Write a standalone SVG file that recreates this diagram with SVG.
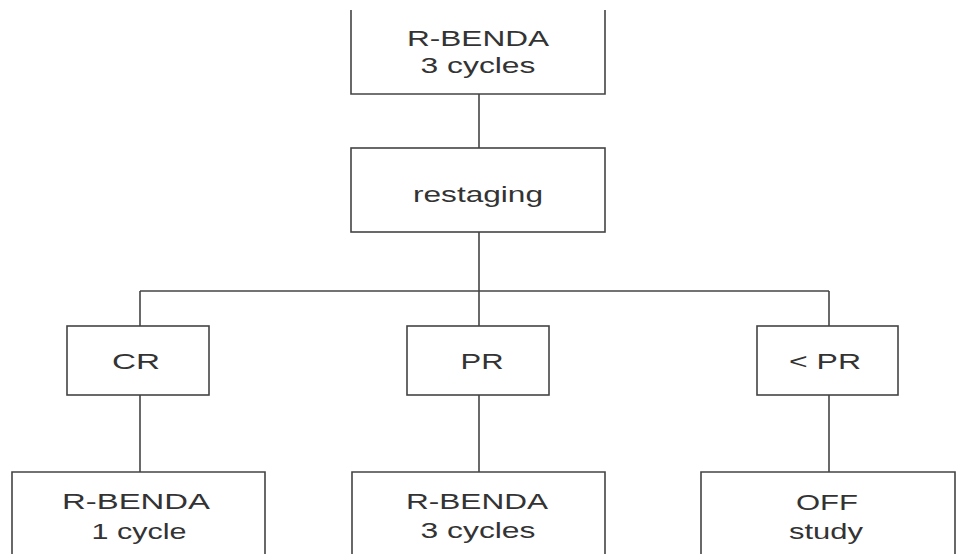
<svg xmlns="http://www.w3.org/2000/svg" width="957" height="554" viewBox="0 0 957 554">
<style>
.box{fill:#fff;stroke:#444;stroke-width:1.6}
.ln{fill:none;stroke:#444;stroke-width:1.6}
.t{font-family:"Liberation Sans",Arial,sans-serif;font-size:22px;fill:#333;text-anchor:middle}
</style>
<rect width="957" height="554" fill="#fff"/>
<g id="connectors">
<line class="ln" x1="479" y1="94" x2="479" y2="148"/>
<line class="ln" x1="479" y1="232" x2="479" y2="291"/>
<line class="ln" x1="140" y1="291" x2="829" y2="291"/>
<line class="ln" x1="140" y1="291" x2="140" y2="326"/>
<line class="ln" x1="479" y1="291" x2="479" y2="326"/>
<line class="ln" x1="829" y1="291" x2="829" y2="326"/>
<line class="ln" x1="140" y1="395" x2="140" y2="472"/>
<line class="ln" x1="479" y1="395" x2="479" y2="472"/>
<line class="ln" x1="829" y1="395" x2="829" y2="472"/>
</g>
<g id="start">
<path class="box" d="M351,10 V94 H605 V10"/>
<text class="t" x="478" y="46" textLength="142" lengthAdjust="spacingAndGlyphs">R-BENDA</text>
<text class="t" x="478" y="73" textLength="115" lengthAdjust="spacingAndGlyphs">3 cycles</text>
</g>
<g id="restaging">
<rect class="box" x="351" y="148" width="254" height="84"/>
<text class="t" x="478" y="202" textLength="130" lengthAdjust="spacingAndGlyphs">restaging</text>
</g>
<g id="cr">
<rect class="box" x="67" y="326" width="142" height="69"/>
<text class="t" x="136" y="369" textLength="48" lengthAdjust="spacingAndGlyphs">CR</text>
</g>
<g id="pr">
<rect class="box" x="407" y="326" width="142" height="69"/>
<text class="t" x="482" y="369" textLength="43" lengthAdjust="spacingAndGlyphs">PR</text>
</g>
<g id="lesspr">
<rect class="box" x="757" y="326" width="141" height="69"/>
<text class="t" x="825" y="369" textLength="72" lengthAdjust="spacingAndGlyphs">&lt; PR</text>
</g>
<g id="cr-tx">
<path class="box" d="M12,554 V472 H265 V554"/>
<text class="t" x="136" y="509" textLength="148" lengthAdjust="spacingAndGlyphs">R-BENDA</text>
<text class="t" x="139" y="539" textLength="95" lengthAdjust="spacingAndGlyphs">1 cycle</text>
</g>
<g id="pr-tx">
<path class="box" d="M352,554 V472 H605 V554"/>
<text class="t" x="477" y="509" textLength="142" lengthAdjust="spacingAndGlyphs">R-BENDA</text>
<text class="t" x="478" y="538" textLength="115" lengthAdjust="spacingAndGlyphs">3 cycles</text>
</g>
<g id="off">
<path class="box" d="M701,554 V472 H955 V554"/>
<text class="t" x="827" y="510" textLength="62" lengthAdjust="spacingAndGlyphs">OFF</text>
<text class="t" x="826" y="539" textLength="74" lengthAdjust="spacingAndGlyphs">study</text>
</g>
</svg>
